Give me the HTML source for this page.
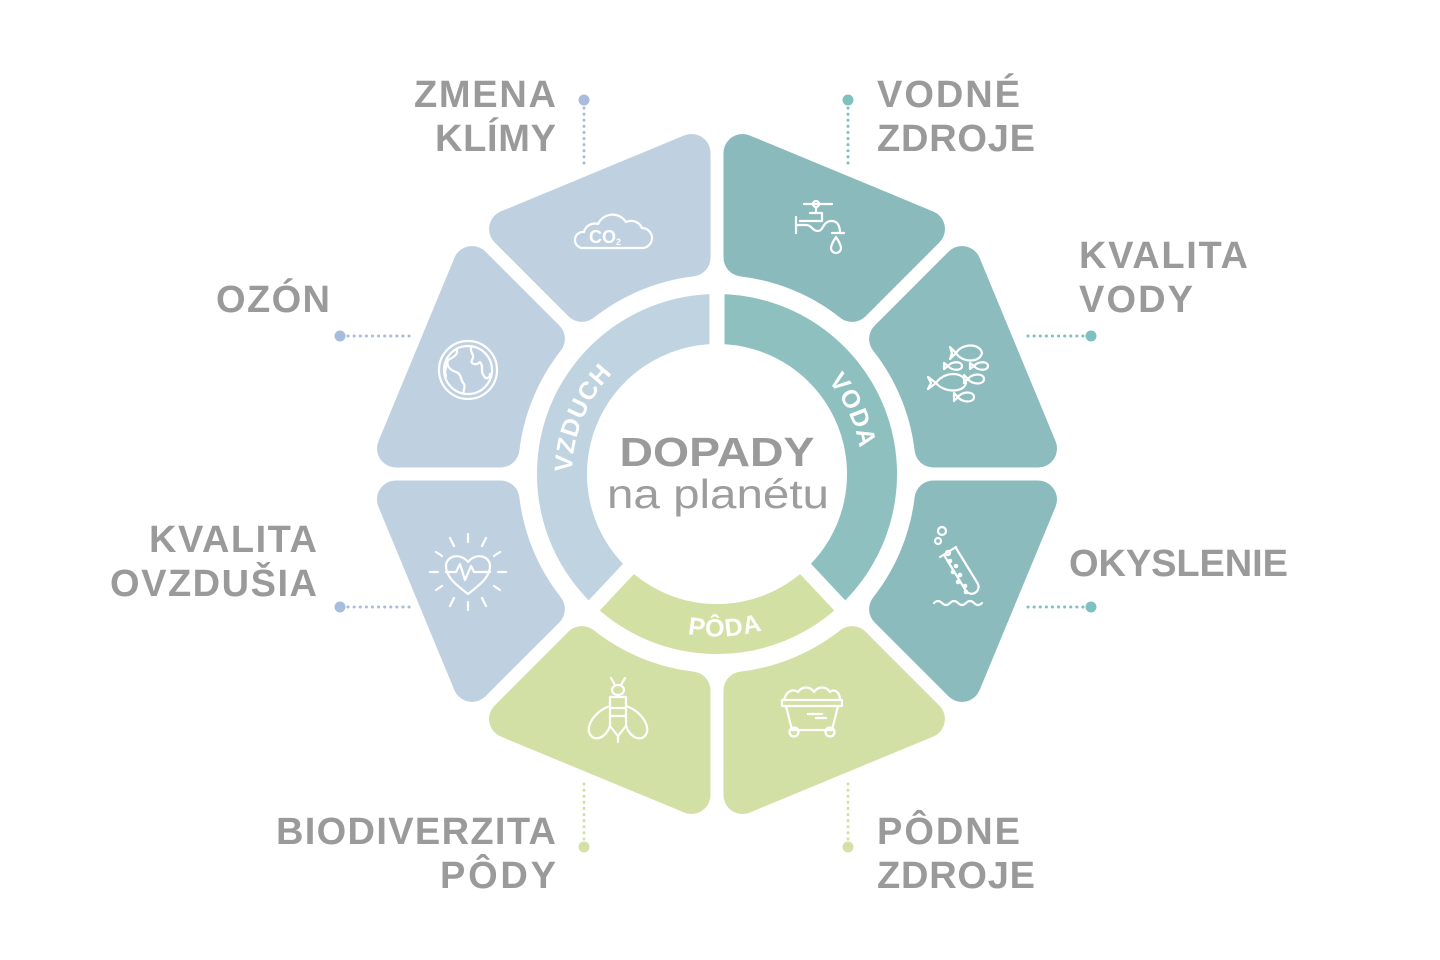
<!DOCTYPE html>
<html><head><meta charset="utf-8"><style>
html,body{margin:0;padding:0;background:#fff;}
svg{display:block;}
.lb{font-family:"Liberation Sans",sans-serif;font-weight:bold;font-size:38px;fill:#9a9a9a;}
.rl{font-family:"Liberation Sans",sans-serif;font-weight:bold;font-size:25px;fill:#fff;letter-spacing:1px;}
.ic{fill:none;stroke:#fff;stroke-width:2.2;stroke-linecap:round;stroke-linejoin:round;}
.dl{fill:none;stroke-width:3;stroke-dasharray:0.1 6;stroke-linecap:round;}
</style></head><body>
<svg width="1440" height="960" viewBox="0 0 1440 960" xmlns="http://www.w3.org/2000/svg">
<defs>
<path id="petal" d="M25.5,-216.5 L25.5,-321 L209,-245 L135.1,-171.1 A218,218 0 0 0 25.5,-216.5 Z" stroke-width="38" stroke-linejoin="round"/>
<path id="pVZ" d="M585.6,535.3 A145,145 0 0 1 667.4,337.7" fill="none"/>
<path id="pVO" d="M766.6,337.7 A145,145 0 0 1 853.3,523.6" fill="none"/>
<path id="pPO" d="M608,595.1 A164,164 0 0 0 838.1,583.1" fill="none"/>
</defs>
<g transform="translate(717,474)">
<use href="#petal" fill="#8bbabd" stroke="#8bbabd" transform="rotate(0)"/>
<use href="#petal" fill="#8dbcbe" stroke="#8dbcbe" transform="rotate(45)"/>
<use href="#petal" fill="#8cbbbe" stroke="#8cbbbe" transform="rotate(90)"/>
<use href="#petal" fill="#d3e0a5" stroke="#d3e0a5" transform="rotate(135)"/>
<use href="#petal" fill="#d3e0a5" stroke="#d3e0a5" transform="rotate(180)"/>
<use href="#petal" fill="#bfd1e0" stroke="#bfd1e0" transform="rotate(225)"/>
<use href="#petal" fill="#bfd1e0" stroke="#bfd1e0" transform="rotate(270)"/>
<use href="#petal" fill="#bfd1e0" stroke="#bfd1e0" transform="rotate(315)"/>
</g>
<path d="M717,319 A155,155 0 0 1 822.7,587.4" fill="none" stroke="#8fc0c0" stroke-width="50"/>
<path d="M822.7,587.4 A155,155 0 0 1 611.3,587.4" fill="none" stroke="#d3e0a4" stroke-width="50"/>
<path d="M611.3,587.4 A155,155 0 0 1 717,319" fill="none" stroke="#bfd3e0" stroke-width="50"/>
<g stroke="#fff" stroke-width="15">
<line x1="717" y1="286" x2="717" y2="352"/>
<line x1="802.2" y1="565.4" x2="845" y2="611"/>
<line x1="631.8" y1="565.4" x2="589" y2="611"/>
</g>
<text class="rl"><textPath href="#pVZ" startOffset="50%" text-anchor="middle">VZDUCH</textPath></text>
<text class="rl"><textPath href="#pVO" startOffset="50%" text-anchor="middle">VODA</textPath></text>
<text class="rl"><textPath href="#pPO" startOffset="50%" text-anchor="middle">PÔDA</textPath></text>
<text x="717" y="466" text-anchor="middle" class="lb" style="font-size:41px" textLength="195" lengthAdjust="spacingAndGlyphs">DOPADY</text>
<text x="718" y="508" text-anchor="middle" style="font-family:'Liberation Sans',sans-serif;font-size:41px;fill:#9d9d9d" textLength="222" lengthAdjust="spacingAndGlyphs">na planétu</text>
<text class="lb" x="556" y="107" text-anchor="end" textLength="142">ZMENA</text>
<text class="lb" x="556" y="151" text-anchor="end" textLength="121">KLÍMY</text>
<text class="lb" x="877" y="107" textLength="143">VODNÉ</text>
<text class="lb" x="877" y="151" textLength="158">ZDROJE</text>
<text class="lb" x="1079" y="268" textLength="169">KVALITA</text>
<text class="lb" x="1079" y="312" textLength="114">VODY</text>
<text class="lb" x="1069" y="576" textLength="219">OKYSLENIE</text>
<text class="lb" x="877" y="844" textLength="143">PÔDNE</text>
<text class="lb" x="877" y="888" textLength="158">ZDROJE</text>
<text class="lb" x="556" y="844" text-anchor="end" textLength="280">BIODIVERZITA</text>
<text class="lb" x="556" y="888" text-anchor="end" textLength="116">PÔDY</text>
<text class="lb" x="317" y="552" text-anchor="end" textLength="168">KVALITA</text>
<text class="lb" x="317" y="596" text-anchor="end" textLength="207">OVZDUŠIA</text>
<text class="lb" x="330" y="312" text-anchor="end" textLength="114">OZÓN</text>
<g>
<line class="dl" stroke="#a9bcdc" x1="584" y1="108" x2="584" y2="166"/><circle cx="584" cy="100" r="5.5" fill="#a9bcdc"/>
<line class="dl" stroke="#7fc0c0" x1="848" y1="108" x2="848" y2="166"/><circle cx="848" cy="100" r="5.5" fill="#7fc0c0"/>
<line class="dl" stroke="#7fc0c0" x1="1083" y1="336" x2="1024" y2="336"/><circle cx="1091" cy="336" r="5.5" fill="#7fc0c0"/>
<line class="dl" stroke="#7fc0c0" x1="1083" y1="607" x2="1024" y2="607"/><circle cx="1091" cy="607" r="5.5" fill="#7fc0c0"/>
<line class="dl" stroke="#d3e0a6" x1="848" y1="839" x2="848" y2="784"/><circle cx="848" cy="847" r="5.5" fill="#d3e0a6"/>
<line class="dl" stroke="#d3e0a6" x1="584" y1="839" x2="584" y2="784"/><circle cx="584" cy="847" r="5.5" fill="#d3e0a6"/>
<line class="dl" stroke="#a9bcdc" x1="348" y1="607" x2="410" y2="607"/><circle cx="340" cy="607" r="5.5" fill="#a9bcdc"/>
<line class="dl" stroke="#a9bcdc" x1="348" y1="336" x2="410" y2="336"/><circle cx="340" cy="336" r="5.5" fill="#a9bcdc"/>
</g>
<g class="ic" transform="translate(612,234)">
<path d="M-30,14 H30 A10,10 0 0 0 30,-6 A12,12 0 0 0 14,-12 A16,16 0 0 0 -14,-10 A11,11 0 0 0 -28,-2 A8,8 0 0 0 -30,14 Z"/>
</g>
<text x="589" y="243" style="font-family:'Liberation Sans',sans-serif;font-weight:bold;font-size:18px;fill:#fff">CO<tspan font-size="9" dy="2">2</tspan></text>
<g class="ic" transform="translate(818,229)">
<line x1="-14" y1="-25" x2="14" y2="-25"/><circle cx="-2" cy="-25" r="3"/>
<path d="M-2,-22 V-16 M-8,-16 H4 V-8 H-18 M-22,-12 V4 M-22,-4 H-12 C-6,-4 -6,2 0,2 C6,2 4,-8 14,-8 C20,-8 22,-2 22,4 M14,4 H26"/>
<path d="M18,8 C14,14 13,17 13,19 A5,5 0 0 0 23,19 C23,17 22,14 18,8 Z"/>
</g>
<g class="ic" transform="translate(962,373)">
<path d="M-6,-20 C0,-30 18,-30 20,-20 C18,-10 0,-10 -6,-20 L-12,-26 L-10,-20 L-12,-14 Z"/>
<path d="M-26,10 C-18,-2 2,-2 4,10 C2,20 -18,20 -26,10 L-34,4 L-31,10 L-34,16 Z"/>
<path d="M-14,-7 C-10,-12 0,-12 0,-7 C0,-2 -10,-2 -14,-7 L-18,-10 L-18,-4 Z"/>
<path d="M12,-7 C16,-12 26,-12 26,-7 C26,-2 16,-2 12,-7 L8,-10 L8,-4 Z"/>
<path d="M6,6 C10,0 22,0 22,6 C22,12 10,12 6,6 L2,2 L2,10 Z"/>
<path d="M-4,24 C0,18 12,18 12,24 C12,30 0,30 -4,24 L-8,20 L-8,28 Z"/>
</g>
<g class="ic" transform="translate(962,575)">
<path d="M-22,-18 L-6,-28 M-18,-20 L4,16 A7,7 0 0 0 16,9 L-6,-27"/>
<circle cx="-24" cy="-34" r="3"/><circle cx="-20" cy="-44" r="4"/><circle cx="-14" cy="-22" r="2"/>
<path d="M-28,28 q4,-4 8,0 t8,0 t8,0 t8,0 t8,0 t8,0"/>
</g>
<g fill="#fff"><circle cx="950" cy="561" r="2.3"/><circle cx="956" cy="566" r="2.3"/><circle cx="953" cy="572" r="2.3"/><circle cx="960" cy="575" r="2.3"/><circle cx="958" cy="582" r="2.3"/><circle cx="965" cy="586" r="2.3"/><circle cx="966" cy="592" r="2.3"/></g>
<g class="ic" transform="translate(812,712)">
<path d="M-30,-12 H30 V-6 H-30 Z M-26,-6 L-20,18 H20 L26,-6 M-18,18 H18"/>
<circle cx="-18" cy="20" r="4.5"/><circle cx="18" cy="20" r="4.5"/>
<path d="M-28,-12 C-26,-20 -20,-24 -14,-20 C-10,-26 -2,-26 2,-20 C6,-26 14,-26 18,-20 C22,-24 28,-20 28,-12"/>
<line x1="-4" y1="2" x2="10" y2="2"/><line x1="4" y1="6" x2="14" y2="6"/>
</g>
<g class="ic" transform="translate(618,712)">
<ellipse cx="0" cy="-22" rx="6" ry="5"/>
<path d="M-3,-27 L-7,-34 M3,-27 L7,-34"/>
<path d="M-8,-15 H8 V14 L0,24 L-8,14 Z M-8,-4 H8 M-8,4 H8 M0,24 V30"/>
<path d="M-8,-6 C-26,0 -36,20 -24,26 C-16,28 -10,20 -8,14"/>
<path d="M8,-6 C26,0 36,20 24,26 C16,28 10,20 8,14"/>
</g>
<g class="ic" transform="translate(468,572)">
<path d="M0,22 C-10,14 -22,6 -22,-6 C-22,-16 -8,-20 0,-10 C8,-20 22,-16 22,-6 C22,6 10,14 0,22 Z"/>
<path d="M-22,0 H-12 L-8,-8 L-3,8 L3,-6 L6,0 H22"/>
<path d="M0,-30 V-38 M-14,-26 L-18,-34 M14,-26 L18,-34 M-26,-16 L-32,-20 M26,-16 L32,-20 M-30,0 H-38 M30,0 H38 M-26,14 L-32,18 M26,14 L32,18 M-14,26 L-18,34 M14,26 L18,34 M0,30 V38"/>
</g>
<g class="ic" transform="translate(468,370)">
<circle r="29"/><circle r="24"/>
<path d="M-12,-21 C-8,-16 -16,-12 -20,-10 C-22,-4 -18,0 -12,2 C-6,4 -8,10 -4,14 C-2,18 -6,22 -4,24 M-20,-10 C-22,-2 -24,2 -22,6 M4,-24 C0,-18 8,-16 4,-10 C2,-6 8,-4 12,-8 C16,-4 12,2 16,6 C18,10 22,8 22,4"/>
</g>
</svg>
</body></html>
